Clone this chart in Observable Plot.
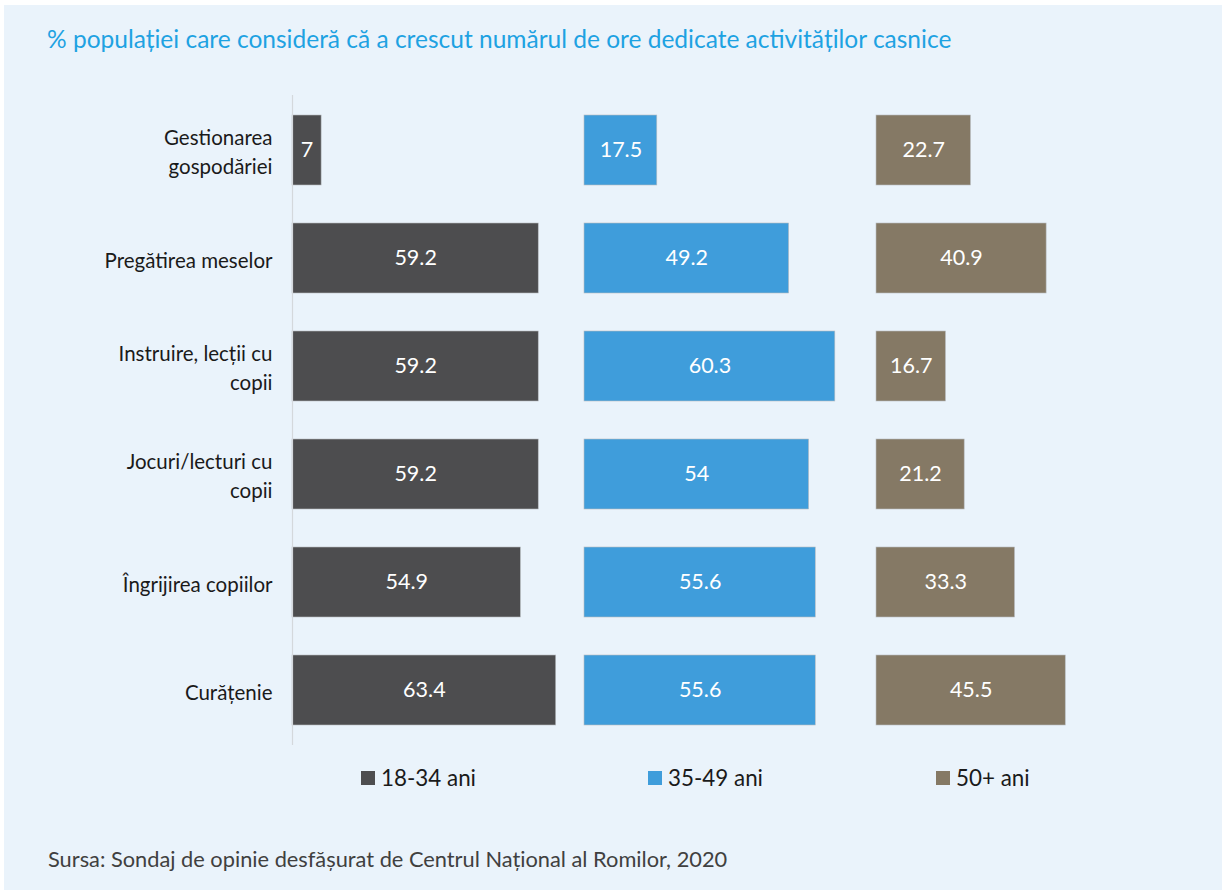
<!DOCTYPE html>
<html>
<head>
<meta charset="utf-8">
<script src="https://cdn.jsdelivr.net/npm/d3@7"></script>
<script src="https://cdn.jsdelivr.net/npm/@observablehq/plot@0.6"></script>
<style>
  html, body { margin: 0; padding: 0; background: #ffffff; overflow: hidden; width: 1222px; height: 895px; }
  #panel { position: absolute; left: 4px; top: 5px; width: 1218px; height: 885px; background: #EAF3FB; }
  #title { position: absolute; left: 47px; top: 24px; font-family: Lato, sans-serif; font-size: 24.5px; line-height: normal; color: #1EA2E2; white-space: nowrap; }
  #chart { position: absolute; left: 0; top: 80px; }
  .sq { position: absolute; top: 771px; width: 14px; height: 14px; }
  .lt { position: absolute; top: 764px; font-family: Lato, sans-serif; font-size: 22.4px; line-height: normal; color: #1a1a1a; white-space: nowrap; }
  #source { position: absolute; left: 48px; top: 845px; font-family: Lato, sans-serif; font-size: 21.8px; line-height: normal; color: #404040; white-space: nowrap; }
</style>
</head>
<body>
<div id="panel"></div>
<div id="title">% populației care consideră că a crescut numărul de ore dedicate activităților casnice</div>
<div id="chart"></div>
<div id="legend"></div>
<div id="source">Sursa: Sondaj de opinie desfășurat de Centrul Național al Romilor, 2020</div>
<script>
const categories = ["Gestionarea gospodăriei", "Pregătirea meselor", "Instruire, lecții cu copii", "Jocuri/lecturi cu copii", "Îngrijirea copiilor", "Curățenie"];
const categoryLabels = ["Gestionarea\ngospodăriei", "Pregătirea meselor", "Instruire, lecții cu\ncopii", "Jocuri/lecturi cu\ncopii", "Îngrijirea copiilor", "Curățenie"];
const groups = ["18-34 ani", "35-49 ani", "50+ ani"];
const values1834 = [7, 59.2, 59.2, 59.2, 54.9, 63.4];
const values3549 = [17.5, 49.2, 60.3, 54, 55.6, 55.6];
const values50 = [22.7, 40.9, 16.7, 21.2, 33.3, 45.5];
const colors = ["#4D4D4F", "#3F9DDB", "#857965"];

const series = [values1834, values3549, values50];
const data = [];
groups.forEach((g, gi) => categories.forEach((c, ci) => data.push({group: g, category: c, value: series[gi][ci]})));
const labelOf = new Map(categories.map((c, i) => [c, categoryLabels[i]]));

const chart = Plot.plot({
  width: 1222,
  height: 670,
  marginLeft: 292,
  marginRight: 54,
  marginTop: 15,
  marginBottom: 5,
  style: {background: "none", fontFamily: "Lato, sans-serif", fontSize: "20px", color: "#1a1a1a", overflow: "visible"},
  fx: {domain: groups, padding: 0, axis: null},
  x: {domain: [0, 70.2], axis: null},
  y: {domain: categories, paddingInner: 0.354, paddingOuter: 0.177, label: null},
  color: {domain: groups, range: colors},
  marks: [
    Plot.barX(data, {fx: "group", y: "category", x: "value", fill: "group", stroke: "#b8bcc0", strokeWidth: 0.6}),
    Plot.text(data, {fx: "group", y: "category", x: d => d.value / 2, text: d => String(d.value), fill: "white", fontSize: 21.5}),
    Plot.ruleX([{group: groups[0]}], {fx: "group", x: 0, stroke: "#D4D8DC", strokeWidth: 1.2}),
    Plot.axisY({tickSize: 0, tickPadding: 20, tickFormat: c => labelOf.get(c), lineHeight: 1.37, fontSize: 20.5, label: null})
  ]
});
document.getElementById("chart").appendChild(chart);

const legendPos = [361, 648, 936];
const legend = document.getElementById("legend");
groups.forEach((g, i) => {
  const sq = document.createElement("div");
  sq.className = "sq";
  sq.style.left = legendPos[i] + "px";
  sq.style.background = colors[i];
  legend.appendChild(sq);
  const t = document.createElement("div");
  t.className = "lt";
  t.style.left = (legendPos[i] + 20) + "px";
  t.textContent = g;
  legend.appendChild(t);
});
</script>
</body>
</html>
